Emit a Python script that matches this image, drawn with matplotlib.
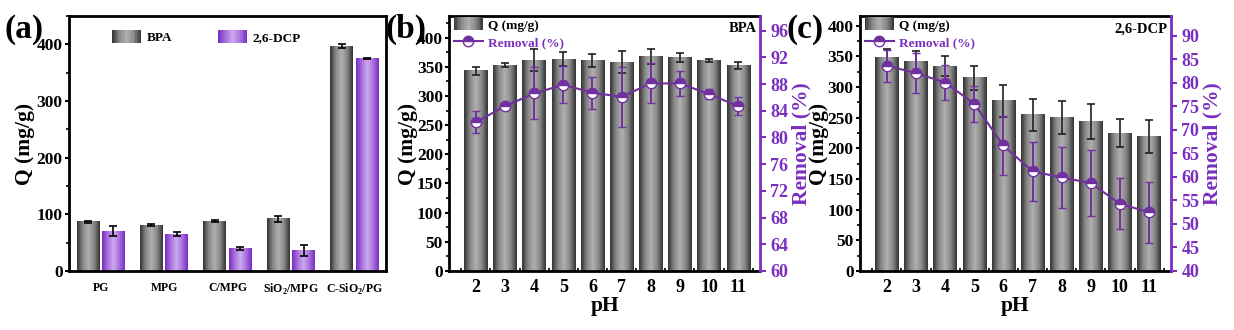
import numpy as np
import matplotlib
matplotlib.use("Agg")
import matplotlib.pyplot as plt
from matplotlib.colors import LinearSegmentedColormap
from matplotlib.legend_handler import HandlerBase
from matplotlib.patches import Rectangle
from matplotlib.lines import Line2D
from matplotlib.ticker import MultipleLocator

plt.rcParams['font.family'] = ['Liberation Serif', 'DejaVu Serif']
plt.rcParams['font.weight'] = 'bold'
plt.rcParams['mathtext.fontset'] = 'custom'
plt.rcParams['mathtext.rm'] = 'Liberation Serif:bold'
plt.rcParams['mathtext.bf'] = 'Liberation Serif:bold'

# ---------------- data ----------------
materials = ['PG', 'MPG', 'C/MPG', r'SiO$_2$/MPG', r'C-SiO$_2$/PG']
q_bpa = [87, 81, 88, 92, 397]
q_bpa_err = [2, 2, 2, 5, 3]
q_dcp = [70, 65, 40, 36, 375]
q_dcp_err = [9, 4, 3, 9, 1]

ph = [2, 3, 4, 5, 6, 7, 8, 9, 10, 11]
q_ph_bpa = [343, 353, 361, 363, 361, 358, 367, 366, 361, 353]
q_ph_bpa_err = [7, 3, 19, 12, 11, 19, 13, 8, 3, 6]
rem_bpa = [82.3, 84.7, 86.6, 87.9, 86.7, 86.1, 88.1, 88.1, 86.5, 84.7]
rem_bpa_err = [1.6, 0.5, 3.9, 2.8, 2.4, 4.5, 3.0, 1.9, 0.7, 1.4]

q_ph_dcp = [348, 341, 334, 315, 278, 255, 250, 244, 225, 219]
q_ph_dcp_err = [14, 18, 16, 19, 26, 26, 27, 29, 23, 27]
rem_dcp = [83.7, 82.1, 80.1, 75.6, 66.7, 61.2, 59.9, 58.7, 54.3, 52.5]
rem_dcp_err = [3.4, 4.3, 3.8, 3.8, 6.3, 6.3, 6.5, 7.1, 5.4, 6.5]

PURPLE = '#7a2fc0'
LINE_PURPLE = '#7030a0'
gray_cmap = LinearSegmentedColormap.from_list('g', ['#b0b0b0', '#888888', '#343434'])
purp_cmap = LinearSegmentedColormap.from_list('p', ['#cfa8f0', '#a772dc', '#7a2cc4'])


def gradient_bars(ax, bars, cmap):
    grad = np.abs(np.linspace(-1, 1, 64)).reshape(1, -1)
    xl, yl = ax.get_xlim(), ax.get_ylim()
    for b in bars:
        x, y = b.get_xy()
        w, h = b.get_width(), b.get_height()
        ax.imshow(grad, extent=[x, x + w, y, y + h], cmap=cmap, vmin=0, vmax=1,
                  aspect='auto', zorder=b.get_zorder(), interpolation='bilinear')
        b.set_facecolor('none')
    ax.set_xlim(xl)
    ax.set_ylim(yl)


class GradHandler(HandlerBase):
    def __init__(self, cmap):
        super().__init__()
        self.cmap = cmap

    def create_artists(self, legend, orig_handle, xdescent, ydescent, width,
                       height, fontsize, trans):
        n = 20
        arts = []
        for i in range(n):
            t = abs((i + 0.5) / n * 2 - 1)
            r = Rectangle((-xdescent + i * width / n, -ydescent - 0.2 * height),
                          width / n * 1.05, height * 1.4,
                          facecolor=self.cmap(t), edgecolor='none', transform=trans)
            arts.append(r)
        return arts


def style_spines(ax):
    for s in ax.spines.values():
        s.set_linewidth(2)


fig = plt.figure(figsize=(12.34, 3.30), dpi=100)

# ---------------- panel (a) ----------------
axa = fig.add_axes([0.0559, 0.1788, 0.2569, 0.7727])
x = np.arange(len(materials))
w = 0.36
b1 = axa.bar(x - 0.2, q_bpa, w, color='gray', zorder=2)
b2 = axa.bar(x + 0.2, q_dcp, w, color=PURPLE, zorder=2)
axa.errorbar(x - 0.2, q_bpa, yerr=q_bpa_err, fmt='none', ecolor='black',
             elinewidth=1.2, capsize=3, capthick=1.2, zorder=3)
axa.errorbar(x + 0.2, q_dcp, yerr=q_dcp_err, fmt='none', ecolor='black',
             elinewidth=1.2, capsize=3, capthick=1.2, zorder=3)
axa.set_xlim(-0.5, 4.5)
axa.set_ylim(0, 450)
gradient_bars(axa, b1, gray_cmap)
gradient_bars(axa, b2, purp_cmap)
axa.set_xticks(x)
axa.set_xticklabels(materials, fontsize=8.5, fontweight='bold')
axa.tick_params(axis='x', length=0, pad=8)
axa.yaxis.set_major_locator(MultipleLocator(100))
axa.yaxis.set_minor_locator(MultipleLocator(50))
axa.tick_params(axis='y', which='major', direction='out', length=3, width=1.5,
                labelsize=12.5, pad=1.5)
axa.tick_params(axis='y', which='minor', direction='out', length=2, width=1.2)
axa.set_ylabel('Q (mg/g)', fontsize=15.5, fontweight='bold', labelpad=1)
style_spines(axa)
h1 = Rectangle((0, 0), 1, 1)
h2 = Rectangle((0, 0), 1, 1)
axa.legend([h1, h2], ['BPA', '2,6-DCP'], ncol=2, frameon=False,
           loc='upper center', bbox_to_anchor=(0.434, 0.985), fontsize=9.5,
           handler_map={h1: GradHandler(gray_cmap), h2: GradHandler(purp_cmap)},
           handlelength=2.2, columnspacing=3.5, handletextpad=0.4)
fig.text(0.004, 0.91, '(a)', fontsize=24, fontweight='bold', va='center', ha='left')


# ---------------- panels (b), (c) ----------------
def ph_panel(left, qv, qe, rv, re, rlim, rstep, label, tag, tagx):
    ax = fig.add_axes([left, 0.1788, 0.2520, 0.7727])
    bars = ax.bar(ph, qv, 0.8, color='gray', zorder=2)
    ax.errorbar(ph, qv, yerr=qe, fmt='none', ecolor='#202020', elinewidth=1.2,
                capsize=3, capthick=1.2, zorder=3)
    ax.set_xlim(1.08, 11.75)
    ax.set_ylim(0, rlim[2])
    gradient_bars(ax, bars, gray_cmap)
    ax.set_xticks(ph)
    ax.xaxis.set_minor_locator(MultipleLocator(0.5))
    ax.tick_params(axis='x', which='major', direction='in', length=3.5, width=1.5,
                   labelsize=13, pad=6)
    ax.tick_params(axis='x', which='minor', direction='in', length=2, width=1.2)
    ax.yaxis.set_major_locator(MultipleLocator(50))
    ax.yaxis.set_minor_locator(MultipleLocator(25))
    ax.tick_params(axis='y', which='major', direction='out', length=3, width=1.5,
                   labelsize=12.5, pad=1.5)
    ax.tick_params(axis='y', which='minor', direction='out', length=2, width=1.2)
    ax.set_ylabel('Q (mg/g)', fontsize=15.5, fontweight='bold', labelpad=-1)
    ax.set_xlabel('pH', fontsize=15.5, fontweight='bold', labelpad=0)
    style_spines(ax)
    ax.spines['right'].set_visible(False)

    ax2 = ax.twinx()
    ax2.errorbar(ph, rv, yerr=re, color=LINE_PURPLE, ecolor=LINE_PURPLE, lw=1.5,
                 elinewidth=1.4, capsize=3, capthick=1.4, marker='o', markersize=7.5,
                 fillstyle='top', markerfacecolor=LINE_PURPLE, markerfacecoloralt='white',
                 markeredgecolor=LINE_PURPLE, markeredgewidth=1.0, zorder=4)
    ax2.set_ylim(rlim[0], rlim[1])
    ax2.yaxis.set_major_locator(MultipleLocator(rstep))
    ax2.tick_params(axis='y', direction='out', length=4, width=1.5, colors=PURPLE,
                    labelsize=13, labelcolor=PURPLE)
    for s in ['left', 'top', 'bottom']:
        ax2.spines[s].set_visible(False)
    ax2.spines['right'].set_color(PURPLE)
    ax2.spines['right'].set_linewidth(2)
    ax2.set_ylabel('Removal (%)', fontsize=15.5, fontweight='bold', color=PURPLE, labelpad=2)

    hq = Rectangle((0, 0), 1, 1)
    hr = Line2D([], [], color=LINE_PURPLE, lw=1.5, marker='o', markersize=7.5,
                fillstyle='top', markerfacecolor=LINE_PURPLE, markerfacecoloralt='white',
                markeredgecolor=LINE_PURPLE)
    leg = ax2.legend([hq, hr], ['Q (mg/g)', 'Removal (%)'], loc='upper left',
                     bbox_to_anchor=(0.005, 1.0), frameon=False, fontsize=9.5,
                     handler_map={hq: GradHandler(gray_cmap)}, handlelength=2.2,
                     handletextpad=0.4, labelspacing=0.4, borderaxespad=0,
                     borderpad=0.25)
    leg.get_texts()[0].set_color('black')
    leg.get_texts()[1].set_color(PURPLE)
    ax2.text(0.99, 0.975, tag, transform=ax2.transAxes, ha='right', va='top',
             fontsize=10.5, fontweight='bold')
    fig.text(tagx, 0.91, label, fontsize=24, fontweight='bold', va='center', ha='left')
    return ax, ax2


ph_panel(0.3639, q_ph_bpa, q_ph_bpa_err, rem_bpa, rem_bpa_err, (60, 98.2, 437), 4,
         '(b)', 'BPA', 0.312)
ph_panel(0.6969, q_ph_dcp, q_ph_dcp_err, rem_dcp, rem_dcp_err, (40, 94.25, 416), 5,
         '(c)', '2,6-DCP', 0.637)

fig.savefig('out.png', dpi=100)
